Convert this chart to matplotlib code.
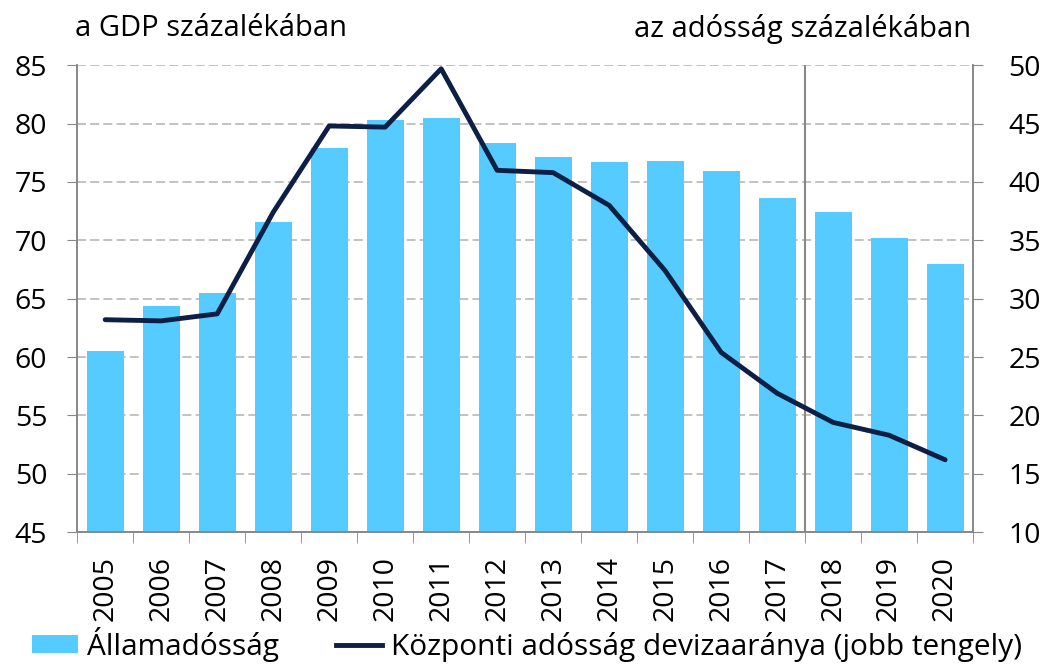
import matplotlib
matplotlib.use("Agg")
from matplotlib import pyplot as plt
from matplotlib.patches import Patch
from matplotlib.lines import Line2D
import numpy as np

years = ['2005', '2006', '2007', '2008', '2009', '2010', '2011', '2012',
         '2013', '2014', '2015', '2016', '2017', '2018', '2019', '2020']
debt = [60.5, 64.4, 65.5, 71.6, 77.9, 80.3, 80.5, 78.3,
        77.1, 76.7, 76.8, 75.9, 73.6, 72.4, 70.2, 68.0]
fx_share = [28.2, 28.1, 28.7, 37.4, 44.8, 44.7, 49.7, 41.0,
            40.8, 38.0, 32.4, 25.4, 21.9, 19.4, 18.3, 16.2]

bar_color = '#55CBFF'
line_color = '#0D1F45'
grid_color = '#BDBDBD'
axis_color = '#888888'
fs = 20.5

plt.rcParams['font.family'] = ['Open Sans', 'DejaVu Sans']

fig = plt.figure(figsize=(10.43, 6.66), dpi=100)
ax = fig.add_axes([0.074, 0.201, 0.859, 0.701])
ax2 = ax.twinx()

x = np.arange(len(years))
ax.bar(x, debt, width=0.66, color=bar_color, zorder=2)
ax.set_xlim(-0.5, len(years) - 0.5)
ax.set_ylim(45, 85)
ax.set_yticks(range(45, 86, 5))
ax.yaxis.grid(True, color=grid_color, linestyle=(0, (5, 2.3)), linewidth=1.3)
ax.set_axisbelow(True)

ax2.plot(x, fx_share, color=line_color, linewidth=3.5, solid_capstyle='round',
         solid_joinstyle='round', zorder=3)
ax2.set_ylim(10, 50)
ax2.set_yticks(range(10, 51, 5))

# separator between actual and forecast years
ax.axvline(12.5, color=axis_color, linewidth=1.5, zorder=4)

ax.set_xticks(x)
ax.set_xticklabels(years, rotation=90, fontsize=fs)
ax.set_xticks(np.arange(-0.5, len(years), 1), minor=True)
ax.tick_params(axis='x', which='major', length=0, pad=17)
ax.tick_params(axis='x', which='minor', length=8, color=axis_color, direction='out')
ax.tick_params(axis='y', labelsize=fs, length=7.5, color=axis_color, pad=14)
ax2.tick_params(axis='y', labelsize=fs, length=7.5, color=axis_color, pad=18)

for a in (ax, ax2):
    a.spines['top'].set_visible(False)
    for s in ('left', 'right', 'bottom'):
        a.spines[s].set_color(axis_color)
        a.spines[s].set_linewidth(1.2)

fig.text(0.072, 0.957, 'a GDP százalékában', fontsize=21, ha='left', va='center')
fig.text(0.931, 0.957, 'az adósság százalékában', fontsize=21, ha='right', va='center')

handles = [Patch(facecolor=bar_color, label='Államadósság'),
           Line2D([0], [0], color=line_color, linewidth=3.5,
                  label='Központi adósság devizaaránya (jobb tengely)')]
fig.legend(handles=handles, loc='lower center', bbox_to_anchor=(0.505, -0.012),
           ncol=2, frameon=False, fontsize=21.5, handlelength=1.55, handleheight=0.55,
           handletextpad=0.3, columnspacing=1.9, borderaxespad=0)

fig.savefig('out.png', dpi=100)
